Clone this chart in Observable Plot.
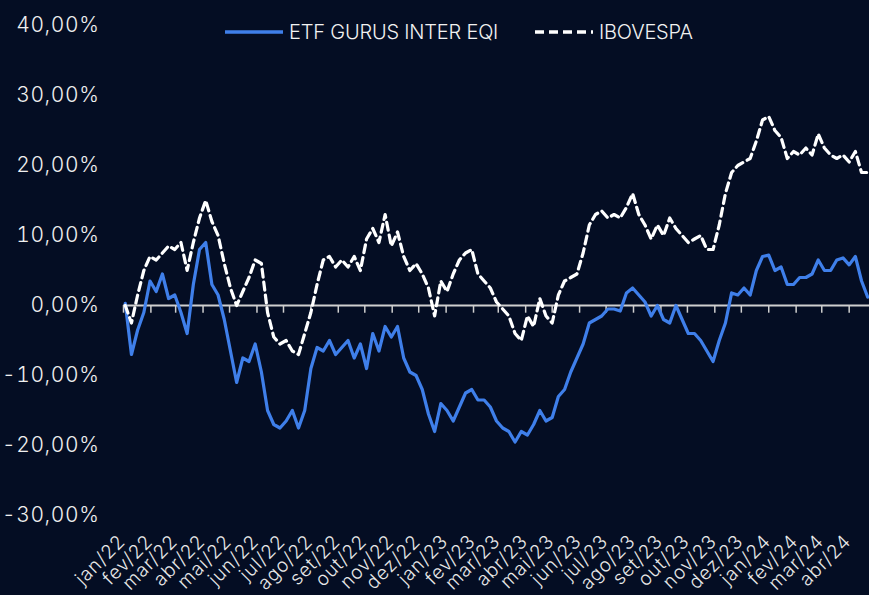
<!DOCTYPE html>
<html>
<head>
<meta charset="utf-8">
<script src="https://cdn.jsdelivr.net/npm/d3@7"></script>
<script src="https://cdn.jsdelivr.net/npm/@observablehq/plot@0.6"></script>
<style>
  html, body { margin: 0; padding: 0; background: #040d23; }
  #wrap { position: relative; width: 869px; height: 595px; overflow: hidden; background: #040d23; font-family: Inter, "Noto Sans", sans-serif; }
  .leg { position: absolute; top: 19px; height: 26px; display: flex; align-items: center; color: #f2f2f2; font-size: 20px; font-weight: 300; letter-spacing: -0.2px; white-space: nowrap; }
  .leg svg { margin-right: 5px; }
</style>
</head>
<body>
<div id="wrap"></div>
<script>
// Weekly readings (Mondays from 2022-01-03), cumulative return in %
const etfGuru = [
  0.3, -7.0, -3.5, -1.0, 3.5, 2.0, 4.5, 1.0, 1.5, -1.0,
  -4.0, 3.0, 8.0, 9.0, 3.0, 1.5, -2.0, -6.5, -11.0, -7.5,
  -8.0, -5.5, -9.5, -15.0, -17.0, -17.5, -16.5, -15.0, -17.5, -15.0,
  -9.0, -6.0, -6.5, -5.0, -7.0, -6.0, -5.0, -7.5, -5.5, -9.0,
  -4.0, -6.5, -3.0, -4.5, -3.0, -7.5, -9.5, -10.0, -12.0, -15.5,
  -18.0, -14.0, -15.0, -16.5, -14.5, -12.5, -12.0, -13.5, -13.5, -14.5,
  -16.5, -17.5, -18.0, -19.5, -18.0, -18.5, -17.0, -15.0, -16.5, -16.0,
  -13.0, -12.0, -9.5, -7.5, -5.5, -2.5, -2.0, -1.5, -0.5, -0.5,
  -0.8, 1.8, 2.5, 1.5, 0.5, -1.5, 0.0, -2.0, -2.5, 0.0,
  -2.0, -4.0, -4.0, -5.0, -6.5, -8.0, -5.0, -2.5, 1.8, 1.5,
  2.5, 1.5, 5.0, 7.0, 7.2, 5.0, 5.5, 3.0, 3.0, 4.0,
  4.0, 4.5, 6.5, 5.0, 5.0, 6.5, 6.8, 5.8, 7.0, 3.5,
  1.2
];
const ibovespa = [
  0.0, -2.5, 1.5, 5.0, 7.0, 6.5, 7.5, 8.5, 8.0, 9.0,
  5.0, 9.0, 12.5, 15.0, 12.0, 10.0, 6.0, 2.5, 0.0, 2.0,
  4.0, 6.5, 6.0, -1.0, -4.5, -5.5, -5.0, -6.5, -7.0, -4.0,
  -1.0, 3.0, 6.5, 7.0, 5.5, 6.5, 5.5, 7.0, 5.0, 9.5,
  11.0, 9.0, 13.0, 8.5, 10.5, 7.0, 5.0, 6.0, 4.5, 2.5,
  -1.5, 3.5, 2.0, 4.5, 6.5, 7.5, 8.0, 4.5, 3.5, 2.5,
  0.5, -0.5, -1.5, -4.0, -5.0, -1.5, -3.0, 1.0, -1.5, -2.5,
  1.5, 3.5, 4.0, 4.5, 7.5, 11.5, 13.0, 13.5, 12.5, 13.0,
  12.5, 14.0, 16.0, 13.0, 11.5, 9.5, 11.5, 10.0, 12.5, 11.0,
  10.0, 9.0, 9.5, 10.0, 8.0, 8.0, 11.5, 16.0, 19.0, 20.0,
  20.5, 21.0, 23.5, 26.5, 27.0, 25.0, 24.0, 21.0, 22.0, 21.5,
  22.5, 21.5, 24.5, 22.5, 21.5, 21.0, 21.5, 20.5, 22.0, 19.0,
  19.0
];
const seriesNames = ["ETF GURUS INTER EQI", "IBOVESPA"];
const monthLabels = [
  "jan/22","fev/22","mar/22","abr/22","mai/22","jun/22","jul/22","ago/22","set/22","out/22","nov/22","dez/22",
  "jan/23","fev/23","mar/23","abr/23","mai/23","jun/23","jul/23","ago/23","set/23","out/23","nov/23","dez/23",
  "jan/24","fev/24","mar/24","abr/24"
];
const yTicks = [-30, -20, -10, 0, 10, 20, 30, 40];

const dates = d3.utcMonday.range(new Date("2022-01-03T00:00:00Z"), new Date("2024-04-23T00:00:00Z"));
const months = d3.utcMonth.range(new Date("2022-01-01T00:00:00Z"), new Date("2024-05-01T00:00:00Z"));
const ticks = months.map((d, i) => ({date: d, label: monthLabels[i]}));

const etfData = etfGuru.map((v, i) => ({date: dates[i], value: v})).filter(d => d.date);
const ibovData = ibovespa.map((v, i) => ({date: dates[i], value: v})).filter(d => d.date);

const BLUE = "#3f7fea";
const fmt = d => d.toFixed(2).replace(".", ",") + "%";

const chart = Plot.plot({
  width: 869,
  height: 595,
  marginLeft: 123,
  marginRight: 0,
  marginTop: 25,
  marginBottom: 80,
  style: {background: "transparent", color: "#f0f0f0", fontFamily: "Inter, 'Noto Sans', sans-serif", fontSize: "21px", fontWeight: 300, letterSpacing: "0.6px"},
  x: {type: "utc", domain: [new Date("2022-01-01T00:00:00Z"), new Date("2024-04-24T00:00:00Z")], axis: null},
  y: {domain: [-30, 40], ticks: yTicks, tickFormat: fmt, tickSize: 0, tickPadding: 24, label: null},
  marks: [
    Plot.ruleY([0], {stroke: "#cfcfcf", strokeWidth: 2}),
    Plot.ruleX(ticks, {x: "date", y1: 0, y2: -1.1, stroke: "#cfcfcf", strokeWidth: 1.5}),
    Plot.line(etfData, {x: "date", y: "value", stroke: BLUE, strokeWidth: 3.2, strokeLinejoin: "round"}),
    Plot.line(ibovData, {x: "date", y: "value", stroke: "#ffffff", strokeWidth: 3.2, strokeDasharray: "8,5"}),
    Plot.text(ticks, {x: "date", frameAnchor: "bottom", text: "label", rotate: -45, textAnchor: "end", dx: 3, dy: 27, fontSize: 19, fontWeight: 300, fill: "#e8e8e8"})
  ]
});

const wrap = document.getElementById("wrap");
wrap.appendChild(chart);
wrap.querySelectorAll("svg g[aria-label='text'] text").forEach(t => t.style.letterSpacing = "0.9px");

function legendItem(left, name, dashed, color) {
  const div = document.createElement("div");
  div.className = "leg";
  div.style.left = left + "px";
  div.innerHTML = `<svg width="60" height="10"><line x1="1" y1="5" x2="59" y2="5" stroke="${color}" stroke-width="3.5" ${dashed ? 'stroke-dasharray="9,5"' : ""}/></svg><span>${name}</span>`;
  wrap.appendChild(div);
}
legendItem(224, seriesNames[0], false, BLUE);
legendItem(534, seriesNames[1], true, "#ffffff");
</script>
</body>
</html>
